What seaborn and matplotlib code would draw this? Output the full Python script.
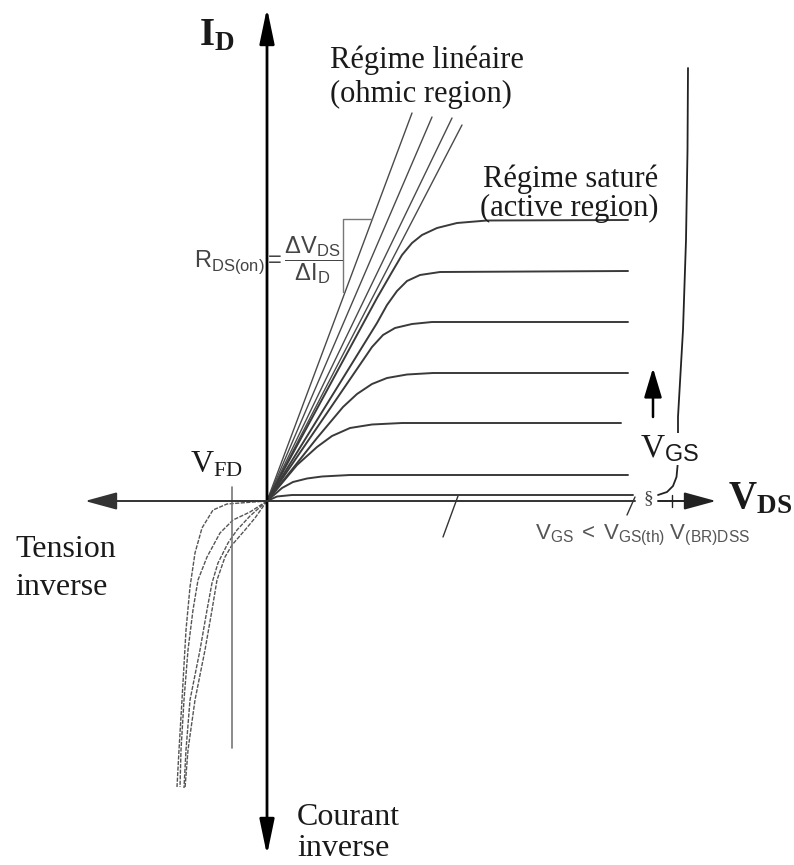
import matplotlib
matplotlib.use("Agg")
import matplotlib.pyplot as plt
import seaborn as sns

# ---------------------------------------------------------------
# Output characteristics (schematic units: V_DS on x, I_D on y)
# one list per V_GS step, from below threshold up to the highest V_GS
sat_vds = [
    [0, 1.0, 2.5, 36.6],
    [0, 1.5, 2.6, 4.0, 5.5, 8.3, 36.1],
    [0, 3.0, 5.0, 6.5, 8.3, 10.5, 13.5, 35.4],
    [0, 5.0, 7.6, 9.0, 10.5, 12.0, 14.0, 16.6, 36.1],
    [0, 9.0, 10.5, 11.6, 12.8, 14.5, 16.5, 36.1],
    [0, 11.0, 12.0, 13.0, 14.0, 15.3, 17.3, 36.1],
    [0, 11.0, 12.5, 13.5, 14.5, 15.5, 17.0, 19.0, 22.0, 36.1],
]
sat_id = [
    [0, 0.45, 0.6, 0.6],
    [0, 1.3, 1.9, 2.25, 2.45, 2.6, 2.6],
    [0, 3.6, 5.4, 6.5, 7.3, 7.65, 7.8, 7.8],
    [0, 6.3, 9.4, 10.7, 11.7, 12.3, 12.65, 12.8, 12.8],
    [0, 13.2, 15.4, 16.6, 17.3, 17.7, 17.9, 17.9],
    [0, 17.8, 19.6, 21.0, 22.0, 22.6, 22.9, 23.0],
    [0, 20.3, 22.9, 24.6, 25.8, 26.6, 27.3, 27.8, 28.05, 28.1],
]

# ohmic-region straight lines (end points, they all start at the origin)
ohm_vds_end = [14.5, 16.5, 18.5, 19.5]
ohm_id_end = [38.8, 38.4, 38.3, 37.6]

# reverse conduction (third quadrant)
rev_vds = [
    [0, -2.7, -4.0, -5.4, -6.5, -7.2, -7.7, -8.1, -8.5, -8.8, -9.0],
    [0, -1.7, -3.4, -4.7, -6.0, -6.9, -7.4, -7.9, -8.3, -8.6, -8.7],
    [0, -1.7, -3.0, -3.9, -4.9, -5.5, -6.0, -6.7, -7.7, -8.1, -8.3],
    [0, -1.2, -2.2, -3.5, -4.2, -5.0, -5.5, -6.2, -7.2, -7.9, -8.2],
]
rev_id = [
    [0, -0.2, -0.3, -0.9, -2.7, -5.2, -8.6, -12.9, -19.9, -24.9, -28.6],
    [0, -1.1, -1.9, -3.2, -5.6, -7.9, -10.9, -14.9, -19.9, -24.9, -28.6],
    [0, -1.5, -2.9, -4.2, -6.2, -8.2, -10.9, -14.9, -19.9, -24.9, -28.7],
    [0, -1.7, -2.9, -4.4, -5.6, -7.9, -10.9, -14.9, -19.9, -24.9, -28.7],
]

# avalanche breakdown branch beyond V_(BR)DSS
bd_vds = [39.1, 40.0, 40.6, 40.95, 41.1, 41.1, 41.6, 41.9, 42.05, 42.1]
bd_id = [0.6, 0.9, 1.5, 2.4, 4.0, 8.4, 17.1, 26.1, 35.0, 43.3]

# forward diode voltage marker and R_DS(on) slope triangle
v_fd = -3.5
v_fd_span = [1.4, -24.7]
rds_vds = [7.6, 7.6, 10.5]
rds_id = [20.9, 28.2, 28.2]

# ---------------------------------------------------------------
sns.set_style("white")
plt.rcParams["font.family"] = ["Liberation Serif", "DejaVu Serif"]
plt.rcParams["mathtext.fontset"] = "custom"
plt.rcParams["mathtext.rm"] = "Liberation Serif"
plt.rcParams["mathtext.bf"] = "Liberation Serif:bold"
plt.rcParams["mathtext.sf"] = "Liberation Sans"
plt.rcParams["mathtext.it"] = "Liberation Serif:italic"

W, H = 794, 865
X0, Y0, S = 267, 501, 10.0

fig = plt.figure(figsize=(W / 100, H / 100), dpi=100)
ax = fig.add_axes([0, 0, 1, 1])
ax.set_xlim(-X0 / S, (W - X0) / S)
ax.set_ylim(-(H - Y0) / S, Y0 / S)
ax.axis("off")


def at(px, py):
    """figure pixel position -> axis coordinates"""
    return (px - X0) / S, (Y0 - py) / S


def curve(xs, ys, color="#333333", lw=1.2, **kw):
    sns.lineplot(x=xs, y=ys, estimator=None, sort=False, color=color,
                 linewidth=lw, ax=ax, **kw)


# axes with arrow heads
head = dict(shrinkA=0, shrinkB=0, mutation_scale=18)
ax.annotate("", xy=at(267, 8), xytext=at(267, 855),
            arrowprops=dict(arrowstyle="<|-|>,head_length=1.2,head_width=0.25",
                            color="black", lw=2.0, **head))
ax.annotate("", xy=at(85, 501), xytext=(36.8, 0),
            arrowprops=dict(arrowstyle="-|>,head_length=1.1,head_width=0.3",
                            color="#333333", lw=1.4, **head))
ax.annotate("", xy=at(716, 501), xytext=(39.1, 0),
            arrowprops=dict(arrowstyle="-|>,head_length=1.1,head_width=0.3",
                            color="#222222", lw=1.4, **head))
ax.text(*at(648, 499), "§", fontsize=14, color="#444444", ha="center",
        va="center", family=["Liberation Serif", "DejaVu Serif"])

# ohmic lines
for xe, ye in zip(ohm_vds_end, ohm_id_end):
    curve([0, xe], [0, ye], color="#4a4a4a", lw=1.0)

# output characteristics
for xs, ys in zip(sat_vds, sat_id):
    curve(xs, ys, color="#3a3a3a", lw=1.4)

# reverse conduction curves
for xs, ys in zip(rev_vds, rev_id):
    curve(xs, ys, color="#555555", lw=1.0, linestyle=(0, (3, 1)))

# breakdown branch
curve(bd_vds, bd_id, color="#222222", lw=1.3)
curve([40.5, 40.5], [0.6, -0.6], color="#222222", lw=1.0)

# V_FD marker
curve([v_fd, v_fd], v_fd_span, color="#777777", lw=1.2)

# R_DS(on) triangle
curve(rds_vds, rds_id, color="#777777", lw=1.0)

# slash marks on the V_DS axis
curve([19.1, 17.6], [0.5, -3.6], color="#333333", lw=1.0)
curve([36.8, 36.0], [0.4, -1.4], color="#333333", lw=1.0)

# V_GS increasing arrow
ax.annotate("", xy=at(653, 368), xytext=at(653, 417),
            arrowprops=dict(arrowstyle="-|>,head_length=1.0,head_width=0.3",
                            color="black", lw=1.8, **head))

# ---------------------------------------------------------------
txt = dict(va="baseline", ha="left", color="#1a1a1a")
ax.text(*at(199, 45), r"$\mathbf{I}_{\mathbf{D}}$", fontsize=28, **txt)
ax.text(*at(728, 508), r"$\mathbf{V}_{\mathbf{DS}}$", fontsize=28, **txt)
ax.text(*at(190, 472), r"$\mathrm{V}_{\mathrm{FD}}$", fontsize=23, **txt)
ax.text(*at(640, 457), r"$\mathrm{V}_{\mathsf{GS}}$", fontsize=24,
        bbox=dict(facecolor="white", edgecolor="none", pad=0.5), **txt)

ax.text(*at(330, 68), "Régime linéaire", fontsize=22, **txt)
ax.text(*at(330, 102), "(ohmic region)", fontsize=22, **txt)
ax.text(*at(483, 187), "Régime saturé", fontsize=22, **txt)
ax.text(*at(480, 216), "(active region)", fontsize=22, **txt)
ax.text(*at(15, 557), "Tension", fontsize=23, **txt)
ax.text(*at(15, 595), "inverse", fontsize=23, **txt)
ax.text(*at(297, 825), "Courant", fontsize=23, **txt)
ax.text(*at(297, 856), "inverse", fontsize=23, **txt)

ax.text(*at(535, 539),
        r"$\mathsf{V}_{\mathsf{GS}}\mathsf{\ <\ V}_{\mathsf{GS(th)}}"
        r"\ \mathsf{V}_{\mathsf{(BR)DSS}}$",
        fontsize=16, va="baseline", ha="left", color="#555555")

ax.text(*at(194, 260),
        r"$\mathsf{R}_{\mathsf{DS(on)}}\mathsf{=}"
        r"\dfrac{\mathsf{\Delta V}_{\mathsf{DS}}}{\mathsf{\Delta I}_{\mathsf{D}}}$",
        fontsize=17, va="center", ha="left", color="#444444")

fig.savefig("out.png", dpi=100, facecolor="white")
